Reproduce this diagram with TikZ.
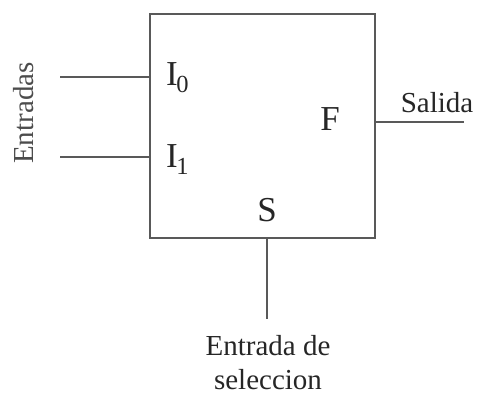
\documentclass[tikz,border=0pt]{standalone}
\usepackage{fontspec}
\setmainfont{Liberation Serif}
\begin{document}
\begin{tikzpicture}[x=1pt,y=-1pt,
  wire/.style={draw=black!65,line width=2pt},
  lbl/.style={inner sep=0pt,anchor=base,text=black!85,font=\fontsize{29}{32}\selectfont},
  pin/.style={inner sep=0pt,anchor=base,text=black!85,font=\fontsize{35}{38}\selectfont}]
\useasboundingbox (0,0) rectangle (477,412);
\node[wire,draw,minimum width=225pt,minimum height=224pt,inner sep=0pt] (box) at (262.5,126) {};
\coordinate (i0) at (60,77);
\coordinate (i1) at (60,157);
\coordinate (out) at (464,122);
\coordinate (sel) at (266.5,319);
\draw[wire] (i0) -- (i0 -| box.west);
\draw[wire] (i1) -- (i1 -| box.west);
\draw[wire] (out -| box.east) -- (out);
\draw[wire] (sel |- box.south) -- (sel);
\node[pin,anchor=base west] (I0) at (166,85) {I\kern-1.5pt\textsubscript{0}};
\node[pin,anchor=base west] (I1) at (166,167) {I\kern-1.5pt\textsubscript{1}};
\node[pin] (F) at (330,131) {F};
\node[pin] (S) at (267,221) {S};
\node[lbl,rotate=90,text=black!70] (ent) at (33,113) {Entradas};
\node[lbl] (sal) at (437,113) {Salida};
\node[lbl] (es1) at (268,355) {Entrada de};
\node[lbl] (es2) at (268,389) {seleccion};
\end{tikzpicture}
\end{document}
